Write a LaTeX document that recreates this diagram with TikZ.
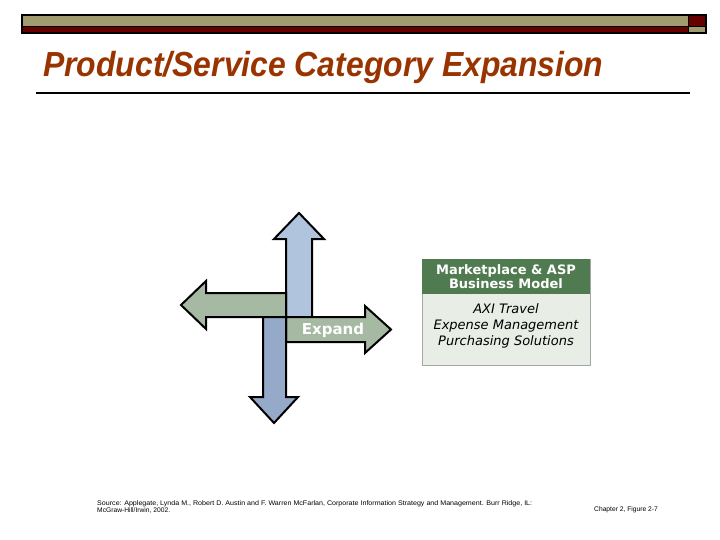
\documentclass[tikz,border=0pt]{standalone}
\usepackage{fontspec}
\setmainfont{DejaVu Sans}
\newfontfamily\titlefont{Liberation Sans}
\newfontfamily\notefont{Liberation Sans}
\definecolor{olivebar}{RGB}{160,156,112}
\definecolor{darkred}{RGB}{102,0,0}
\definecolor{titlerust}{RGB}{153,51,0}
\definecolor{lightblue}{RGB}{176,196,222}
\definecolor{midblue}{RGB}{148,170,200}
\definecolor{sage}{RGB}{166,185,163}
\definecolor{boxgreen}{RGB}{80,122,80}
\definecolor{boxbody}{RGB}{232,237,230}
\begin{document}
\begin{tikzpicture}[x=1pt,y=-1pt,
  arrowshape/.style={draw=black,line width=2pt,line join=miter},
  notestyle/.style={inner sep=0pt,font=\notefont\fontsize{6.7}{7.5}\selectfont}]
\useasboundingbox (0,0) rectangle (720,540);
% header bar
\fill[olivebar] (22,15) rectangle (688,26);
\fill[darkred] (22,26) rectangle (688,33);
\fill[darkred] (688,15) rectangle (706,26);
\fill[olivebar] (688,26) rectangle (706,33);
\draw[line width=0.8pt] (22,26) -- (706,26);
\draw[line width=1pt] (688,15) -- (688,33);
\draw[line width=1.6pt] (22,15) rectangle (706,33);
% title
\node[anchor=base west, inner sep=0pt, text=titlerust,
      font=\titlefont\bfseries\itshape\fontsize{29}{29}\selectfont] (title) at (43,77)
      {\scalebox{1.1}[1.2]{Product/Service Category Expansion}};
\draw[line width=2pt] (36,93) -- (690,93);
% arrows
\draw[arrowshape, fill=lightblue] (286,317) -- (286,239) -- (274,239) -- (299,213) -- (324,239) -- (312,239) -- (312,317) -- cycle;
\draw[arrowshape, fill=sage] (286,293) -- (206,293) -- (206,281) -- (181,305) -- (206,329) -- (206,317) -- (286,317) -- cycle;
\draw[arrowshape, fill=sage] (286,317) -- (365,317) -- (365,306) -- (391,329.5) -- (365,353) -- (365,342) -- (286,342) -- cycle;
\draw[arrowshape, fill=midblue] (263,317) -- (286,317) -- (286,397) -- (298,397) -- (274,423) -- (250,397) -- (263,397) -- cycle;
\node[text=white, font=\bfseries\fontsize{15}{15}\selectfont] (expand) at (333,330) {Expand};
% box
\draw[draw=gray!70, fill=boxbody] (422,259) rectangle (590,365);
\fill[boxgreen] (422,259) rectangle (590,294);
\node[align=center, text=white, font=\bfseries\fontsize{13}{14}\selectfont] (hdr) at (506,277)
  {Marketplace \& ASP\\Business Model};
\node[align=center, font=\itshape\fontsize{13}{16}\selectfont] (body) at (506,326)
  {AXI Travel\\Expense Management\\Purchasing Solutions};
% footnotes
\node[notestyle, anchor=north west, align=left] (src) at (97,500)
  {\scalebox{1.06}[1]{Source: Applegate, Lynda M., Robert D. Austin and F. Warren McFarlan, Corporate Information Strategy and Management. Burr Ridge, IL:}\\McGraw-Hill/Irwin, 2002.};
\node[notestyle, anchor=west] (chap) at (594,510) {Chapter 2, Figure 2-7};
\end{tikzpicture}
\end{document}
